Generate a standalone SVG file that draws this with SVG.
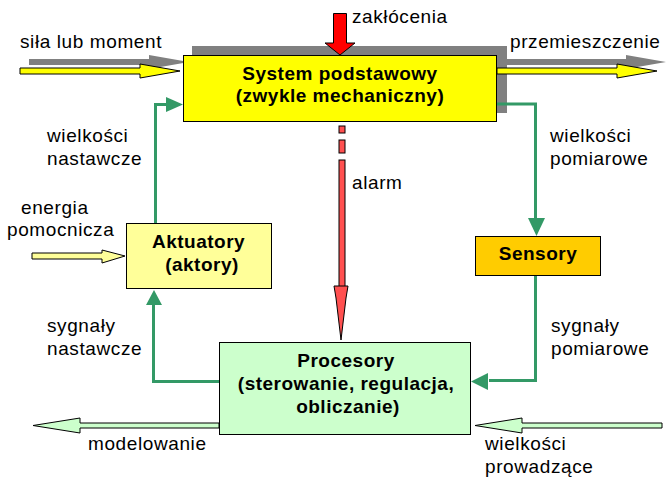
<svg xmlns="http://www.w3.org/2000/svg" width="669" height="486" viewBox="0 0 669 486">
<style>
text{font-family:"Liberation Sans",Arial,sans-serif;font-size:19px;letter-spacing:0.6px;fill:#000}
.b{font-weight:bold;letter-spacing:0.5px;text-anchor:middle}
.box{stroke:#000;stroke-width:1}
.g{fill:none;stroke:#339966;stroke-width:3}
.gh{fill:#339966}
.sh{fill:#808080}
.ol{stroke:#000;stroke-width:1}
</style>
<rect width="669" height="486" fill="#fff"/>

<!-- shadow of the base system with its arrows -->
<g id="shadow" class="sh">
<path d="M29,59 H149 V55 L189,62 L149,69 V65 H29 Z"/>
<path d="M506,59 H626 V55 L666,62 L626,69 V65 H506 Z"/>
<rect x="192" y="46" width="315" height="67"/>
</g>

<g id="connectors">
<!-- yellow input/output -->
<path class="ol" fill="#ffff00" d="M20,68 H140 V64 L180,71 L140,78 V74 H20 Z"/>
<path class="ol" fill="#ffff00" d="M497,68 H617 V64 L657,71 L617,78 V74 H497 Z"/>
<!-- disturbance -->
<path class="ol" fill="#ff0000" d="M333.5,13.5 H346.5 V43 H355 L340,55 L325,43 H333.5 Z"/>
<!-- alarm -->
<g class="ol" fill="#ff5050">
<rect x="339" y="126" width="6" height="7"/>
<rect x="339" y="140" width="6" height="13"/>
<rect x="339" y="160" width="6" height="127"/>
<path d="M334,286 H348 L346,298 L341,340 L336,298 Z"/>
</g>
<!-- auxiliary energy -->
<path class="ol" fill="#ffff99" d="M32,253 H102 V250 L125,256 L102,263 V259 H32 Z"/>
<!-- green loops -->
<path class="g" d="M155.5,223 V104.5 H168"/>
<path class="gh" d="M166,97 L183,104.5 L166,112 Z"/>
<path class="g" d="M497,104 H535.5 V220"/>
<path class="gh" d="M528,218 H545 L536.5,236 Z"/>
<path class="g" d="M535.5,275 V380.5 H489"/>
<path class="gh" d="M488,373 V390 L471,381.5 Z"/>
<path class="g" d="M219,381.5 H153.5 V303"/>
<path class="gh" d="M146,305 H162 L154,290 Z"/>
<!-- light green -->
<path class="ol" fill="#ccffcc" d="M219,423 H80 V418 L33,425.5 L80,433 V428 H219 Z"/>
<path class="ol" fill="#ccffcc" d="M662,423 H522 V418 L475,425.5 L522,433 V428 H662 Z"/>
</g>

<g id="system">
<rect class="box" x="183.5" y="55.5" width="313" height="66" fill="#ffff00"/>
<text class="b" x="340" y="80">System podstawowy</text>
<text class="b" x="340" y="102">(zwykle mechaniczny)</text>
</g>

<g id="aktuatory">
<rect class="box" x="126.5" y="223.5" width="145" height="65" fill="#ffff99"/>
<text class="b" x="198.5" y="248">Aktuatory</text>
<text class="b" x="202" y="271">(aktory)</text>
</g>

<g id="sensory">
<rect class="box" x="475.5" y="236.5" width="125" height="39" fill="#ffcc00"/>
<text class="b" x="538" y="260">Sensory</text>
</g>

<g id="procesory">
<rect class="box" x="219.5" y="342.5" width="251" height="92" fill="#ccffcc"/>
<text class="b" x="346" y="367">Procesory</text>
<text class="b" x="346" y="390">(sterowanie, regulacja,</text>
<text class="b" x="348" y="413">obliczanie)</text>
</g>

<g id="labels">
<text x="352" y="23">zakłócenia</text>
<text x="20" y="48">siła lub moment</text>
<text x="510" y="48">przemieszczenie</text>
<text x="47" y="142">wielkości</text>
<text x="47" y="165">nastawcze</text>
<text x="550" y="142">wielkości</text>
<text x="550" y="165">pomiarowe</text>
<text x="352" y="189">alarm</text>
<text x="21" y="214">energia</text>
<text x="7" y="236">pomocnicza</text>
<text x="47" y="332">sygnały</text>
<text x="47" y="355">nastawcze</text>
<text x="551" y="332">sygnały</text>
<text x="551" y="355">pomiarowe</text>
<text x="88" y="450">modelowanie</text>
<text x="485" y="450">wielkości</text>
<text x="485" y="473">prowadzące</text>
</g>
</svg>
